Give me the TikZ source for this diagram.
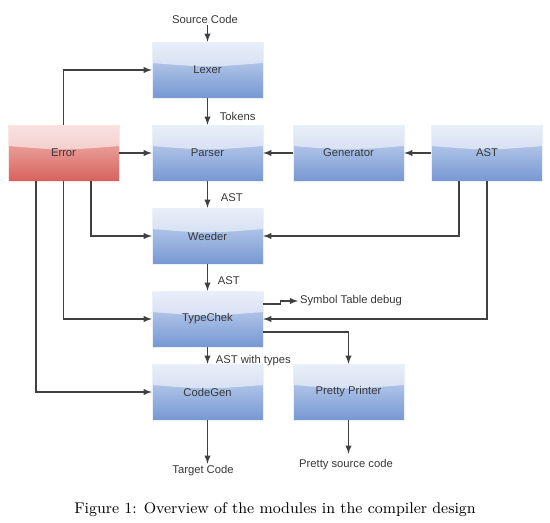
\documentclass[tikz,border=0pt]{standalone}
\usepackage{fontspec}
\setsansfont{Liberation Sans}
\usetikzlibrary{calc}

\definecolor{modtop}{RGB}{206,219,243}
\definecolor{modbot}{RGB}{118,152,210}
\definecolor{errtop}{RGB}{244,190,186}
\definecolor{errbot}{RGB}{214,98,92}
\definecolor{ink}{RGB}{55,55,55}

\tikzset{
    module/.style={minimum width=2.22cm, minimum height=1.12cm, inner sep=0pt,
        top color=modtop, bottom color=modbot, draw=white!85!modbot, line width=0.3pt,
        font=\sffamily\fontsize{6.4}{7.5}\selectfont, text=ink,
        path picture={
            \fill[white, opacity=0.55] (path picture bounding box.north west)
                -- (path picture bounding box.north east)
                -- ([yshift=1.4mm]path picture bounding box.east)
                .. controls ([yshift=0.5mm]path picture bounding box.center)
                .. ([yshift=1.4mm]path picture bounding box.west) -- cycle;
        }},
    errmodule/.style={module, top color=errtop, bottom color=errbot, draw=white!85!errbot},
    lbl/.style={font=\sffamily\fontsize{6.4}{7.5}\selectfont, text=ink, inner sep=1pt},
    flow/.style={->, line width=0.6pt, draw=black!75}
}

\begin{document}
\begin{tikzpicture}[x=0.02cm, y=-0.02cm, >=latex]
    \useasboundingbox (0,0) rectangle (550,523);

    % Modules
    \node[module] (lexer) at (207.5,70) {Lexer};
    \node[module] (parser) at (207.5,153) {Parser};
    \node[module] (weeder) at (207.5,236) {Weeder};
    \node[module] (typechek) at (207.5,319) {TypeChek};
    \node[module] (codegen) at (207.5,392) {CodeGen};
    \node[module] (printer) at (348.5,392) {Pretty Printer};
    \node[module] (generator) at (348.5,153) {Generator};
    \node[module] (ast) at (487,153) {AST};
    \node[errmodule] (error) at (63.5,153) {Error};

    % Inputs and outputs
    \node[lbl] (source) at (205,19) {Source Code};
    \node[lbl] (target) at (203,471) {Target Code};
    \node[lbl] (pretty) at (346,465) {Pretty source code};
    \node[lbl, anchor=west] (symtab) at (298,301) {Symbol Table debug};

    % Main pipeline
    \draw[flow] (source.south -| lexer.north) -- (lexer.north);
    \draw[flow] (lexer) -- node[lbl, anchor=west, pos=0.68, xshift=0.2cm] {Tokens} (parser);
    \draw[flow] (parser) -- node[lbl, anchor=west, pos=0.6, xshift=0.22cm] {AST} (weeder);
    \draw[flow] (weeder) -- node[lbl, anchor=west, pos=0.6, xshift=0.16cm] {AST} (typechek);
    \draw[flow] (typechek) -- node[lbl, anchor=west, pos=0.78, xshift=0.12cm] {AST with types} (codegen);
    \draw[flow] (codegen) -- (codegen.south |- target.north);
    \draw[flow] (printer) -- ($(printer.south |- pretty.north)+(0,-4)$);

    % TypeChek outputs
    \draw[flow] ($(typechek.east)+(0,-15)$) -- ++(17,0) |- (symtab.west);
    \draw[flow] ($(typechek.east)+(0,13)$) -| (printer.north);

    % Error handling
    \draw[flow] (error.north) |- (lexer.west);
    \draw[flow] (error) -- (parser);
    \draw[flow] ($(error.south)+(27.5,0)$) |- (weeder.west);
    \draw[flow] (error.south) |- (typechek.west);
    \draw[flow] ($(error.south)+(-27.5,0)$) |- (codegen.west);

    % AST feedback
    \draw[flow] (ast) -- (generator);
    \draw[flow] (generator) -- (parser);
    \draw[flow] ($(ast.south)+(-28,0)$) |- (weeder.east);
    \draw[flow] (ast.south) |- (typechek.east);

    % Caption
    \node[font=\fontsize{8.8}{11}\selectfont] (caption) at (275,510)
        {Figure 1: Overview of the modules in the compiler design};
\end{tikzpicture}
\end{document}
